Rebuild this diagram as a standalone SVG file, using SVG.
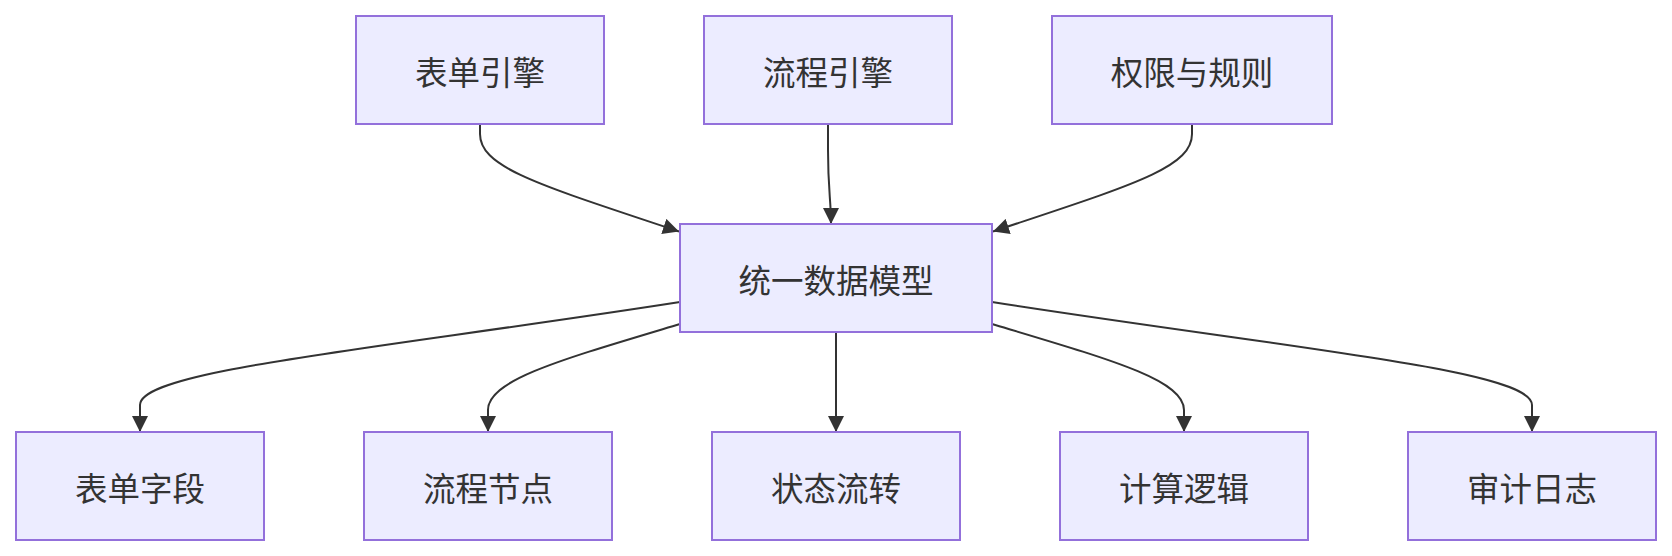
<svg xmlns="http://www.w3.org/2000/svg" width="1672" height="556" viewBox="0 0 1672 556">
<style>
.node rect{fill:#ECECFF;stroke:#9370DB;stroke-width:2}
.node text{font-family:"Noto Sans CJK SC","Noto Sans",sans-serif;font-size:32.5px;fill:#333;text-anchor:middle;dominant-baseline:central}
.edge{fill:none;stroke:#333;stroke-width:2;marker-end:url(#arrow)}
</style>
<defs>
<marker id="arrow" markerUnits="userSpaceOnUse" markerWidth="16" markerHeight="16" refX="16" refY="8" orient="auto">
<path d="M0,0 L16,8 L0,16 z" fill="#333"/>
</marker>
</defs>
<rect width="1672" height="556" fill="#fff"/>
<g id="connectors">
<path class="edge" d="M480,124 L480,134 C480,168 540,185 679,231.5"/>
<path class="edge" d="M828,124 L828,150 C828,190 831,200 831,224"/>
<path class="edge" d="M1192,124 L1192,134 C1192,168 1132,185 993,231.5"/>
<path class="edge" d="M680,302 C372,350 140,370 140,405 L140,432"/>
<path class="edge" d="M680,324 C560,360 488,380 488,410 L488,432"/>
<path class="edge" d="M836,332 L836,432"/>
<path class="edge" d="M992,324 C1112,360 1184,380 1184,410 L1184,432"/>
<path class="edge" d="M992,302 C1300,350 1532,370 1532,405 L1532,432"/>
</g>
<g id="n-form-engine" class="node"><rect x="356" y="16" width="248" height="108"/><text x="480" y="70">表单引擎</text></g>
<g id="n-flow-engine" class="node"><rect x="704" y="16" width="248" height="108"/><text x="828" y="70">流程引擎</text></g>
<g id="n-permission" class="node"><rect x="1052" y="16" width="280" height="108"/><text x="1192" y="70">权限与规则</text></g>
<g id="n-model" class="node"><rect x="680" y="224" width="312" height="108"/><text x="836" y="278">统一数据模型</text></g>
<g id="n-form-field" class="node"><rect x="16" y="432" width="248" height="108"/><text x="140" y="486">表单字段</text></g>
<g id="n-flow-node" class="node"><rect x="364" y="432" width="248" height="108"/><text x="488" y="486">流程节点</text></g>
<g id="n-state" class="node"><rect x="712" y="432" width="248" height="108"/><text x="836" y="486">状态流转</text></g>
<g id="n-calc" class="node"><rect x="1060" y="432" width="248" height="108"/><text x="1184" y="486">计算逻辑</text></g>
<g id="n-audit" class="node"><rect x="1408" y="432" width="248" height="108"/><text x="1532" y="486">审计日志</text></g>
</svg>
